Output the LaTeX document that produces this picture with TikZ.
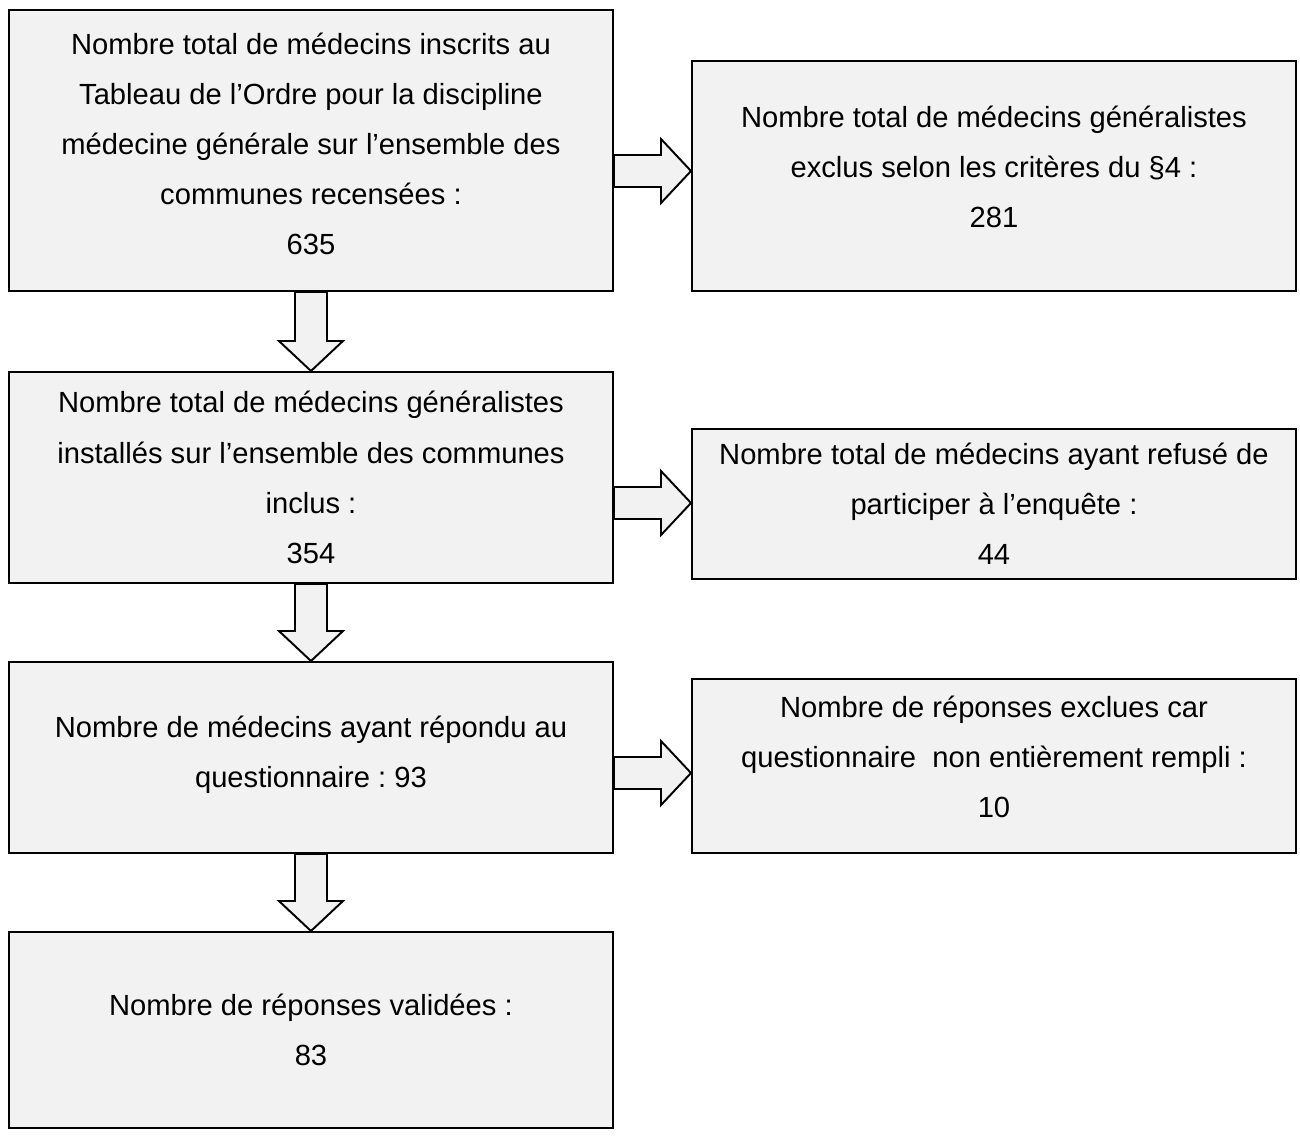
\documentclass[tikz,border=0pt]{standalone}
\usepackage{fontspec}
\setmainfont{Liberation Sans}
\usetikzlibrary{calc}
\definecolor{boxgrey}{HTML}{F2F2F2}
\def\pxu{0.4115pt}
\frenchspacing

\tikzset{
  flowbox/.style={draw=black, line width=0.8pt, fill=boxgrey, anchor=north west,
    inner sep=0pt, align=center, minimum width=604*\pxu,
    font=\fontsize{12}{20.6}\selectfont},
  blockarrow/.style={draw=black, line width=0.8pt, fill=boxgrey, line join=miter}
}

% invisible strut below the last line, lifts the text in its box
\newcommand{\lift}[1]{\rule[-#1]{0pt}{0pt}}
% block arrow from the east side of a box to a tip coordinate
\newcommand{\sidearrow}[2]{%
  \draw[blockarrow] ($(#1.east |- #2)+(0,-16)$) -- ($(#2)+(-30,-16)$)
    -- ($(#2)+(-30,-32)$) -- (#2) -- ($(#2)+(-30,32)$)
    -- ($(#2)+(-30,16)$) -- ($(#1.east |- #2)+(0,16)$) -- cycle;}
% block arrow from the south side of a box to the north side of the next one
\newcommand{\droparrow}[2]{%
  \draw[blockarrow] ($(#1.south)+(-16,0)$) -- ($(#2.north)+(-16,-30)$)
    -- ($(#2.north)+(-32,-30)$) -- (#2.north) -- ($(#2.north)+(32,-30)$)
    -- ($(#2.north)+(16,-30)$) -- ($(#1.south)+(16,0)$) -- cycle;}

\begin{document}
\begin{tikzpicture}[x=\pxu, y=-\pxu]
\useasboundingbox (0,0) rectangle (1300,1135);

\node[flowbox, minimum height=281*\pxu] (inscrits) at (8,9)
  {Nombre total de médecins inscrits au\\Tableau de l’Ordre pour la discipline\\médecine générale sur l’ensemble des\\communes recensées :\\635\lift{5.8pt}};
\node[flowbox, minimum height=230*\pxu] (exclus) at (691,60)
  {Nombre total de médecins généralistes\\exclus selon les critères du §4 :\\281\lift{7.4pt}};
\node[flowbox, minimum height=211*\pxu] (installes) at (8,371)
  {Nombre total de médecins généralistes\\installés sur l’ensemble des communes\\inclus :\\354};
\node[flowbox, minimum height=150*\pxu] (refus) at (691,428)
  {Nombre total de médecins ayant refusé de\\participer à l’enquête :\\44};
\node[flowbox, minimum height=191*\pxu] (repondu) at (8,661)
  {Nombre de médecins ayant répondu au\\questionnaire : 93\lift{5pt}};
\node[flowbox, minimum height=174*\pxu] (incomplet) at (691,678)
  {Nombre de réponses exclues car\\questionnaire\ \ non entièrement rempli :\\10\lift{7.4pt}};
\node[flowbox, minimum height=196*\pxu] (valide) at (8,931)
  {Nombre de réponses validées :\\83};

\coordinate (tipA) at (exclus.west |- 0,171);
\coordinate (tipB) at (refus.west |- 0,503);
\coordinate (tipC) at (incomplet.west |- 0,773);

\sidearrow{inscrits}{tipA}
\sidearrow{installes}{tipB}
\sidearrow{repondu}{tipC}

\droparrow{inscrits}{installes}
\droparrow{installes}{repondu}
\droparrow{repondu}{valide}
\end{tikzpicture}
\end{document}
